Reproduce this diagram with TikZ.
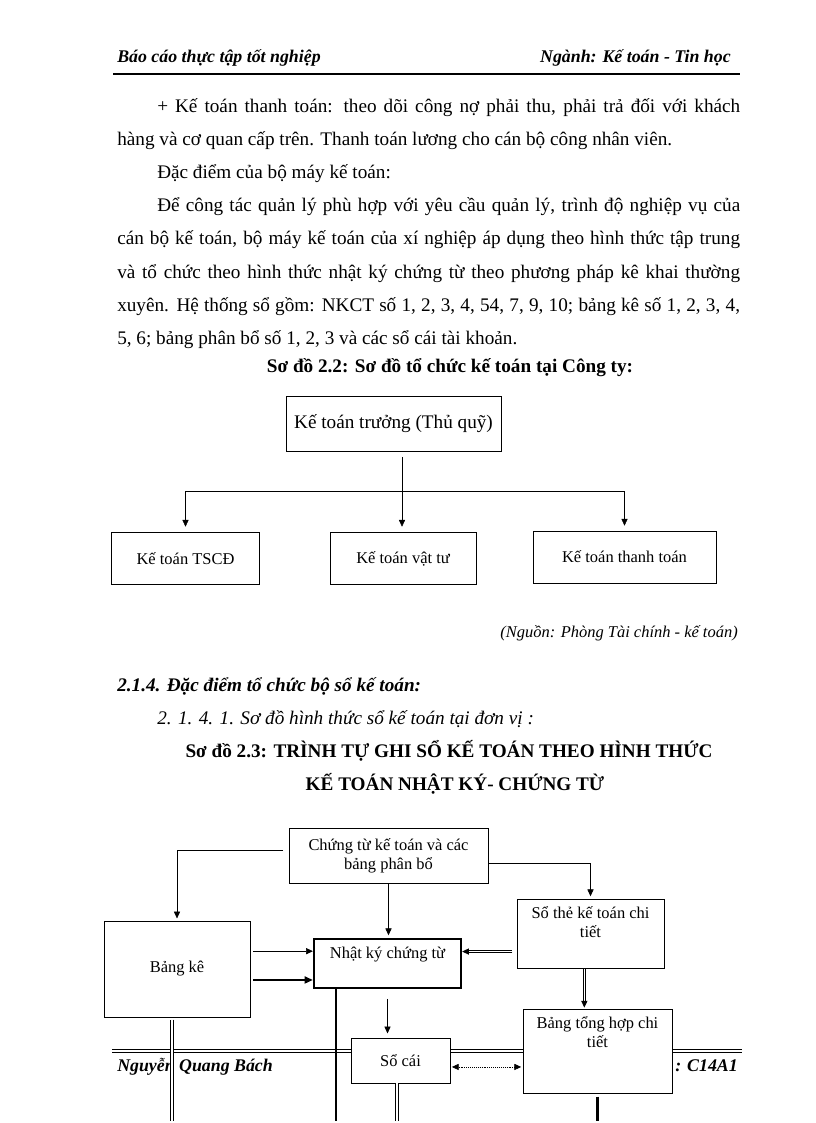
\documentclass[tikz,border=0pt]{standalone}
\usepackage{fontspec}
\setmainfont{Liberation Serif}
\usetikzlibrary{arrows.meta,positioning,calc}

\newcommand\jl[2]{\makebox[#1][s]{#2}}
% text at the top of a box: height, width, text
\newcommand\tb[3]{\parbox[t][#1][t]{#2}{\centering\rule{0pt}{11pt}#3}}

\begin{document}
\begin{tikzpicture}[
  x=0.729pt, y=-0.729pt,
  body/.style={anchor=base west, inner sep=0pt, font=\fontsize{14}{16}\selectfont},
  hd/.style={inner sep=0pt, font=\fontsize{13}{15}\selectfont\bfseries\itshape},
  captxt/.style={anchor=base, inner sep=0pt, font=\fontsize{14}{16}\selectfont\bfseries},
  box/.style={draw, line width=0.7pt, fill=white, inner sep=2pt, align=center,
              font=\fontsize{12}{13.8}\selectfont},
  tbox/.style={box, anchor=north, inner xsep=0pt, inner ysep=3pt},
  arr/.style={-{Triangle[length=5pt,width=4.5pt]}},
  dbl/.style={double, double distance=0.9pt, line width=0.75pt},
  thk/.style={line width=1.7pt}
]
\useasboundingbox[fill=white] (0,0) rectangle (816,1123);

% header and footer
\node[hd, anchor=base west] (hdl) at (117,63) {Báo cáo thực tập tốt nghiệp};
\node[hd, anchor=base east] (hdr) at (731,63) {Ngành: Kế toán - Tin học};
\draw[line width=1.5pt] (113,74) -- (740,74);
\draw[dbl] (112,1051) -- (742,1051);
\node[hd, anchor=base west] (ftl) at (117,1071) {Nguyễn Quang Bách};
\node[hd, anchor=base east] (ftr) at (738,1071) {: C14A1};

% text
\node[body] (l1) at (157,113) {\jl{425pt}{+ Kế toán thanh toán: theo dõi công nợ phải thu, phải trả đối với khách}};
\node[body] (l2) at (117,146) {hàng và cơ quan cấp trên. Thanh toán lương cho cán bộ công nhân viên.};
\node[body] (l3) at (157,179) {Đặc điểm của bộ máy kế toán:};
\node[body] (l4) at (157,212) {\jl{425pt}{Để công tác quản lý phù hợp với yêu cầu quản lý, trình độ nghiệp vụ của}};
\node[body] (l5) at (117,245) {\jl{454pt}{cán bộ kế toán, bộ máy kế toán của xí nghiệp  áp dụng theo hình thức tập trung}};
\node[body] (l6) at (117,278) {\jl{454pt}{và tổ chức theo hình thức nhật ký chứng từ theo phương pháp kê khai thường}};
\node[body] (l7) at (117,311) {\jl{454pt}{xuyên. Hệ thống sổ gồm: NKCT số 1, 2, 3, 4, 54, 7, 9, 10; bảng kê số 1, 2, 3, 4,}};
\node[body] (l8) at (117,344) {5, 6; bảng phân bổ số 1, 2, 3 và các sổ cái tài khoản.};
\node[captxt] (cap1) at (450,372) {Sơ đồ 2.2: Sơ đồ tổ chức kế toán tại Công ty:};

% so do 2.2
\node[box, minimum width=156.7pt, minimum height=39.4pt, font=\fontsize{14}{16}\selectfont]
  (chief) at (393.5,424) {Kế toán trưởng (Thủ quỹ)};
\node[box, minimum width=107.2pt, minimum height=38.6pt] (tscd) at (185.5,558.5) {Kế toán TSCĐ};
\node[box, minimum width=106.4pt, minimum height=38.6pt] (vattu) at (403,558.5) {Kế toán vật tư};
\node[box, minimum width=133.4pt, minimum height=37.9pt] (ttoan) at (624.5,557) {Kế toán thanh toán};
\coordinate (fork) at (402,491);
\draw[arr, shorten <=4pt, shorten >=3.5pt] (chief.south -| fork) -- (fork |- vattu.north);
\draw (fork -| tscd) -- (fork -| ttoan);
\foreach \b in {tscd, ttoan} \draw[arr, shorten >=3.5pt] (fork -| \b) -- (\b.north);

\node[anchor=base east, inner sep=0pt, font=\fontsize{12}{14}\selectfont\itshape] (src) at (738,637)
  {(Nguồn: Phòng Tài chính - kế toán)};
\node[body, font=\fontsize{14}{16}\selectfont\bfseries\itshape] (sec) at (117,691)
  {2.1.4. Đặc điểm tổ chức bộ sổ kế toán:};
\node[body, font=\fontsize{14}{16}\selectfont\itshape] (sub) at (157,724)
  {2. 1. 4. 1. Sơ đồ hình thức sổ kế toán tại đơn vị :};
\node[captxt] (cap2) at (449,757) {Sơ đồ 2.3: TRÌNH TỰ GHI SỔ KẾ TOÁN THEO HÌNH THỨC};
\node[captxt] (cap3) at (455,790) {KẾ TOÁN NHẬT KÝ- CHỨNG TỪ};

% so do 2.3
\node[box, minimum width=145.1pt, minimum height=40.1pt] (ctu) at (388.5,855.5)
  {Chứng từ kế toán và các\\ bảng phân bổ};
\node[box, minimum width=106.4pt, minimum height=70pt] (bke) at (177,969) {Bảng kê};
\node[tbox, line width=1.6pt] (nky) at (387.5,938)
  {\tb{29.7pt}{107.2pt}{Nhật ký chứng từ}};
\node[tbox] (sothe) at (590.5,899)
  {\tb{44.3pt}{107.2pt}{Sổ thẻ kế toán chi\\ tiết}};
\node[tbox] (tonghop) at (597.5,1009)
  {\tb{55.2pt}{108.6pt}{Bảng tổng hợp chi\\ tiết}};
\node[box, minimum width=72.2pt, minimum height=32.8pt] (socai) at (400.5,1060.5) {Sổ cái};
\coordinate (pgbot) at (0,1121);

\draw[arr, shorten <=4pt, shorten >=1.5pt] ([yshift=4pt]ctu.west) -| (bke.north);
\draw[arr, shorten >=2pt] (ctu.south) -- (ctu.south |- nky.north);
\draw[arr, shorten >=2pt] ([yshift=-5.5pt]ctu.east) -| (sothe.north);
\draw[arr, shorten <=2pt] ([yshift=13pt]bke.east) -- ([yshift=13pt]bke.east -| nky.west);
\draw[thk, -{Triangle[length=6pt,width=5pt]}, shorten <=2pt] ([yshift=-8pt]bke.east) -- ([yshift=-8pt]bke.east -| nky.west);
\draw[dbl, arr, shorten <=3pt] ([yshift=-12.8pt]sothe.west) -- ([yshift=-12.8pt]sothe.west -| nky.east);
\draw[dbl, arr, shorten >=1pt] ([xshift=-4.5pt]sothe.south) -- ([xshift=-4.5pt]sothe.south |- tonghop.north);
\draw[arr, shorten <=7pt, shorten >=3pt] (nky.south) -- (nky.south |- socai.north);
\draw[densely dotted, {Triangle[length=5pt,width=4.5pt]}-{Triangle[length=5pt,width=4.5pt]}, shorten <=1pt, shorten >=1pt]
  ([yshift=-4.7pt]socai.east) -- ([yshift=-4.7pt]socai.east -| tonghop.west);
\draw[dbl, shorten <=1.5pt] ([xshift=-3.6pt]bke.south) -- ([xshift=-3.6pt]bke.south |- pgbot);
\draw[thk] ([xshift=16.8pt]nky.south west) -- ([xshift=16.8pt]nky.south west |- pgbot);
\draw[dbl] ([xshift=-2.5pt]socai.south) -- ([xshift=-2.5pt]socai.south |- pgbot);
\draw[thk, shorten <=2pt] (tonghop.south) -- (tonghop.south |- pgbot);
\end{tikzpicture}
\end{document}
